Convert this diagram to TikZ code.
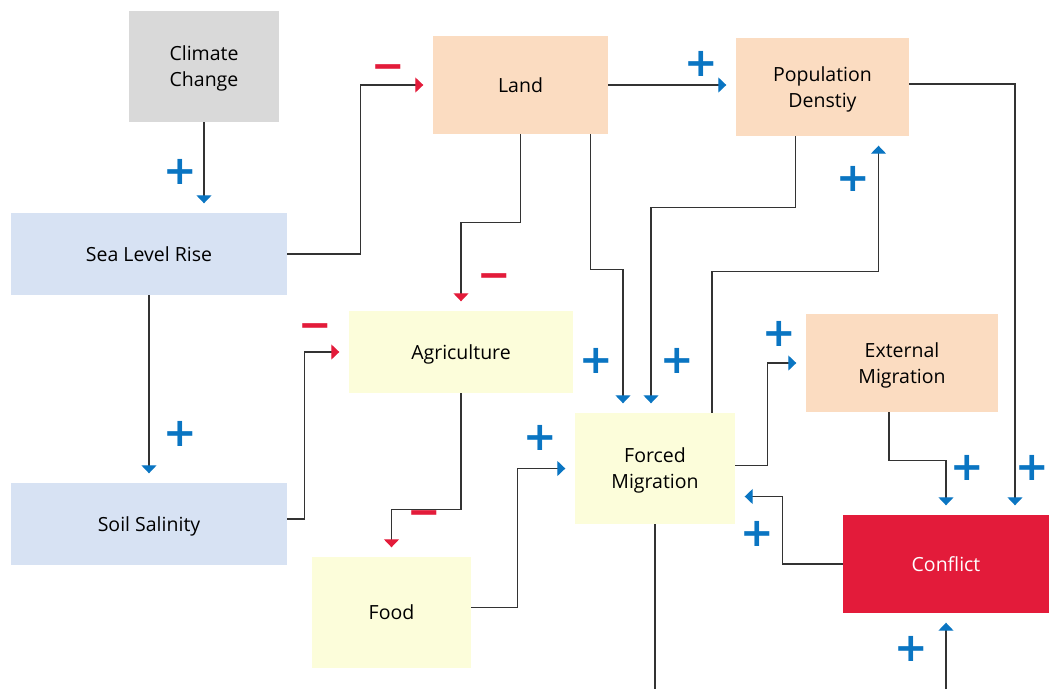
\documentclass[tikz,border=0pt]{standalone}
\usepackage{fontspec}
\setmainfont{Open Sans}
\newfontfamily\signfont{DejaVu Sans}
\usetikzlibrary{arrows.meta}
\definecolor{boxgray}{HTML}{D9D9D9}
\definecolor{boxpeach}{HTML}{FBDCC1}
\definecolor{boxblue}{HTML}{D7E2F3}
\definecolor{boxyellow}{HTML}{FCFDDA}
\definecolor{boxred}{HTML}{E31B3A}
\definecolor{signblue}{HTML}{0A75C2}
\definecolor{signred}{HTML}{E31B3A}
\begin{document}
\begin{tikzpicture}[x=1pt,y=-1pt,
  box/.style={inner sep=0pt,align=center,text depth=-1pt,font=\fontsize{19.5}{26}\selectfont},
  link/.style={draw=black!80,line width=1.2pt},
  posarrow/.style={link,-{Triangle[length=8pt,width=15pt,color=signblue]},shorten >=9.5pt},
  negarrow/.style={link,-{Triangle[length=8pt,width=15pt,color=signred]},shorten >=9.5pt},
  sign/.style={inner ysep=0pt,inner xsep=-4pt,font=\signfont\bfseries\fontsize{40}{40}\selectfont,text height=25.2pt,text depth=0pt},
  plus/.style={sign,text=signblue},
  minus/.style={sign,text=signred}]
\useasboundingbox (0,0) rectangle (1049,689);
% boxes
\foreach \nm/\cx/\cy/\w/\h/\col/\txt in {cc/204/66.5/150/111/boxgray/{Climate\\Change},land/520.5/85/175/98/boxpeach/{Land},popd/822.5/87/173/98/boxpeach/{Population\\Denstiy},slr/149/254/276/82/boxblue/{Sea Level Rise},agri/461/352/224/82/boxyellow/{Agriculture},extm/902/363/192/98/boxpeach/{External\\Migration},forced/655/468.5/160/111/boxyellow/{Forced\\Migration},soil/149/524/276/82/boxblue/{Soil Salinity},food/391.5/612.5/159/111/boxyellow/{Food}}{\node[box,fill=\col,minimum width=\w pt,minimum height=\h pt](\nm) at (\cx,\cy){\txt};}
\node[box,fill=boxred,text=white,minimum width=206pt,minimum height=98pt](confl) at (946,564){Conflict};
\coordinate (outA) at (655,689);
\coordinate (inB) at (946,689);
% connectors
\draw[posarrow](cc.south)--(cc.south|-slr.north);
\draw[negarrow](slr.east)--++(73,0)|-(land.west);
\draw[posarrow](land.east)--(popd.west|-land.east);
\draw[negarrow](land.south)--++(0,88)-|(agri.north);
\draw[posarrow]([xshift=70pt]land.south)--++(0,135)-|([xshift=-32pt]forced.north);
\draw[posarrow]([xshift=-27pt]popd.south)--++(0,71)-|([xshift=-4pt]forced.north);
\draw[posarrow]([xshift=57pt]forced.north)--++(0,-141)-|([xshift=56pt]popd.south);
\draw[posarrow]([yshift=3pt]popd.east)-|([xshift=69pt]confl.north);
\draw[negarrow](agri.south)--++(0,116)-|(food.north);
\draw[negarrow]([yshift=5pt]soil.east)--++(17,0)|-(agri.west);
\draw[posarrow](slr.south)--(soil.north);
\draw[posarrow]([yshift=5pt]food.east)--++(46,0)|-(forced.west);
\draw[posarrow]([yshift=3pt]forced.east)--++(32,0)|-(extm.west);
\draw[posarrow]([xshift=-13pt]extm.south)--++(0,48)-|(confl.north);
\draw[posarrow](confl.west)--++(-60,0)|-([yshift=-28pt]forced.east);
\draw[link](forced.south)--(outA);
\draw[posarrow](inB)--(confl.south);
% signs
\foreach \sx/\sy [count=\i] in {180/172,701/63.5,853.5/179,596/361,677/361,779/333.5,967/468,1032/468,757.5/534,911/649,540.5/437.5,180/434}{\node[plus](plus\i) at (\sx,\sy){+};}
\foreach \sx/\sy [count=\i] in {388.5/66.5,494/276,315.5/325.7,424.5/512.5}{\node[minus](minus\i) at (\sx,\sy){−};}
\end{tikzpicture}
\end{document}
